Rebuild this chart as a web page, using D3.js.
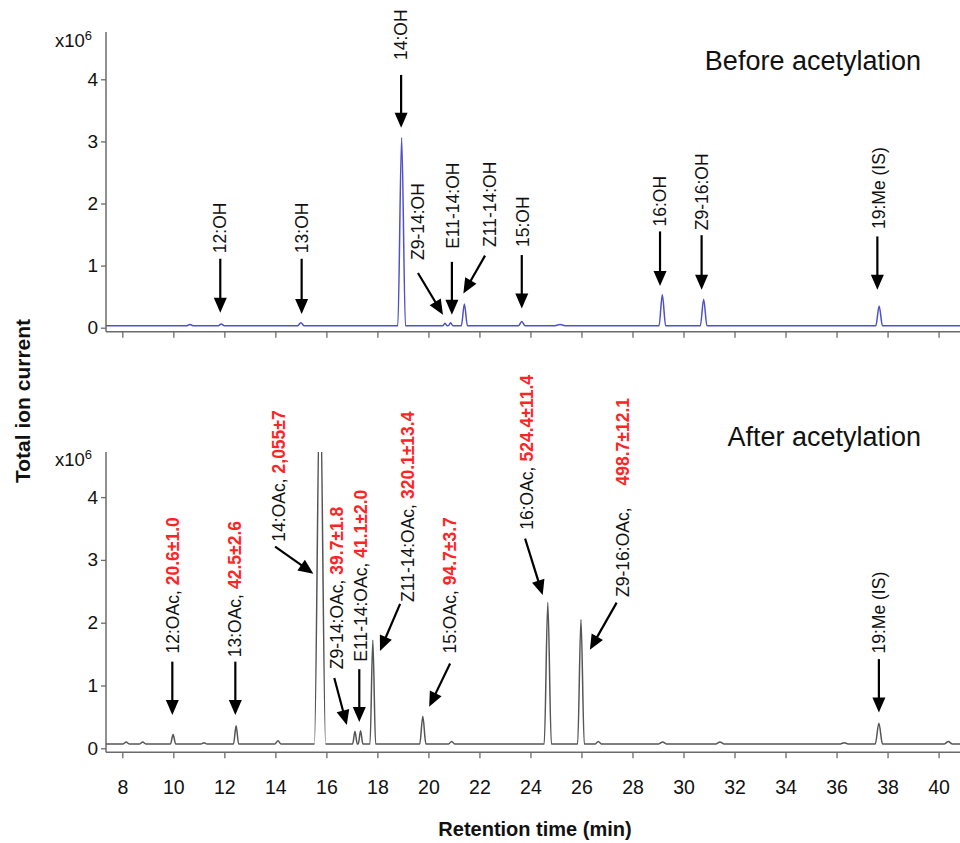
<!DOCTYPE html>
<html lang="en">
<head>
<meta charset="utf-8">
<title>TIC before and after acetylation</title>
<script src="https://cdn.jsdelivr.net/npm/d3@7"></script>
<style>
    body { margin: 0; background: #fff; }
    svg { font-family: "Liberation Sans", Arial, sans-serif; }
</style>
</head>
<body>
<script>
    // ---- data ----
    var xTicks = [8, 10, 12, 14, 16, 18, 20, 22, 24, 26, 28, 30, 32, 34, 36, 38, 40];
    var yTicks = [0, 1, 2, 3, 4];

    // before acetylation: apex time (min), apex height (x10^6), half width at base (min)
    var beforeTimes   = [10.65, 11.88, 15.0, 18.95, 20.65, 20.87, 21.41, 23.66, 25.16, 29.17, 30.79, 37.67];
    var beforeHeights = [0.05, 0.06, 0.08, 3.06, 0.07, 0.08, 0.38, 0.10, 0.05, 0.53, 0.46, 0.35];
    var beforeWidths  = [0.15, 0.12, 0.13, 0.15, 0.09, 0.09, 0.12, 0.13, 0.25, 0.13, 0.13, 0.13];
    var beforeBaseline = 0.03;

    // after acetylation
    var afterTimes   = [8.15, 8.8, 9.99, 11.2, 12.46, 14.1, 15.75, 17.12, 17.34, 17.82, 19.78, 20.91, 24.68, 25.98, 26.66, 29.18, 31.43, 36.3, 37.66, 40.38];
    var afterHeights = [0.10, 0.10, 0.22, 0.09, 0.36, 0.12, 6.0, 0.27, 0.28, 1.72, 0.51, 0.11, 2.32, 2.05, 0.11, 0.10, 0.10, 0.09, 0.40, 0.11];
    var afterWidths  = [0.12, 0.12, 0.10, 0.12, 0.10, 0.12, 0.22, 0.09, 0.09, 0.11, 0.12, 0.12, 0.14, 0.13, 0.12, 0.15, 0.15, 0.15, 0.14, 0.15];
    var afterBaseline = 0.07;

    // peak labels
    var beforeLabels = ["12:OH", "13:OH", "14:OH", "Z9-14:OH", "E11-14:OH", "Z11-14:OH", "15:OH", "16:OH", "Z9-16:OH", "19:Me (IS)"];
    var afterNames   = ["12:OAc,", "13:OAc,", "14:OAc,", "Z9-14:OAc,", "E11-14:OAc,", "Z11-14:OAc,", "15:OAc,", "16:OAc,", "Z9-16:OAc,", "19:Me (IS)"];
    var afterAmounts = ["20.6±1.0", "42.5±2.6", "2,055±7", "39.7±1.8", "41.1±2.0", "320.1±13.4", "94.7±3.7", "524.4±11.4", "498.7±12.1", ""];

    // ---- label / arrow placement, in data units: text foot [t, v], arrow [t1, v1, t2, v2] ----
    var beforeText  = [[11.84, 1.20], [15.03, 1.20], [18.93, 4.31], [19.60, 1.09], [20.96, 1.27], [22.41, 1.30],
                       [23.72, 1.30], [29.08, 1.63], [30.71, 1.57], [37.64, 1.59]];
    var beforeArrow = [[11.84, 1.11, 11.84, 0.24], [15.03, 1.11, 15.03, 0.22], [18.93, 4.07, 18.93, 3.22],
                       [19.59, 0.88, 20.57, 0.21], [20.92, 1.06, 20.92, 0.21], [22.22, 1.16, 21.37, 0.55],
                       [23.66, 1.17, 23.66, 0.31], [29.08, 1.55, 29.08, 0.67], [30.71, 1.49, 30.71, 0.61],
                       [37.60, 1.47, 37.60, 0.61]];
    var afterText  = [[10.00, 1.51], [12.42, 1.45], [14.12, 3.29], [16.40, 1.26], [17.36, 1.38], [19.21, 2.33],
                      [20.85, 1.51], [23.85, 3.48], [27.64, 2.41], [37.64, 1.51]];
    var afterArrow = [[9.96, 1.38, 9.96, 0.53], [12.43, 1.38, 12.43, 0.53], [13.99, 3.21, 15.49, 2.78],
                      [16.31, 1.12, 16.80, 0.37], [17.29, 1.26, 17.29, 0.42], [18.89, 2.30, 18.10, 1.55],
                      [20.85, 1.35, 20.03, 0.66], [23.79, 3.34, 24.48, 2.44], [27.38, 2.32, 26.33, 1.57],
                      [37.66, 1.42, 37.66, 0.57]];

    var W = 960, H = 843;
    var svg = d3.select("body").append("svg").attr("width", W).attr("height", H);

    var x = d3.scaleLinear().domain([7.36, 40.84]).range([106, 960]);

    var fontLabel = 17.5;

    function tracePoints(times, heights, widths, base) {
        var pts = [[x.domain()[0], base]];
        times.forEach(function (t, i) {
            pts.push([t - widths[i], base], [t, heights[i]], [t + widths[i], base]);
        });
        pts.push([x.domain()[1], base]);
        return pts;
    }

    function arrow(g, x1, y1, x2, y2) {
        var dx = x2 - x1, dy = y2 - y1, len = Math.hypot(dx, dy);
        var ux = dx / len, uy = dy / len;
        var hl = 15, hw = 6.5;
        var bx = x2 - ux * hl, by = y2 - uy * hl;
        g.append("line")
            .attr("x1", x1).attr("y1", y1)
            .attr("x2", bx + ux * 2).attr("y2", by + uy * 2)
            .attr("stroke", "#000").attr("stroke-width", 2.2);
        g.append("path")
            .attr("d", "M" + x2 + "," + y2 +
                "L" + (bx - uy * hw) + "," + (by + ux * hw) +
                "L" + (bx + uy * hw) + "," + (by - ux * hw) + "Z")
            .attr("fill", "#000");
    }

    function drawPanel(p) {
        var y = d3.scaleLinear().domain([0, p.top]).range([p.zeroY, p.zeroY - p.top * p.unit]);
        var g = svg.append("g");
        var axisY = p.zeroY + 4;

        // clip so the saturated peak stops at the frame top
        var clipId = "clip" + p.id;
        svg.append("clipPath").attr("id", clipId).append("rect")
            .attr("x", 106).attr("y", y(p.top)).attr("width", 960 - 106).attr("height", axisY - y(p.top));

        // x axis
        var xa = g.append("g")
            .attr("transform", "translate(0," + axisY + ")")
            .call(d3.axisBottom(x).tickValues(xTicks).tickSize(6).tickPadding(22)
                .tickFormat(p.xLabels ? d3.format("d") : ""));
        xa.select(".domain").remove();
        xa.append("line").attr("x1", 106).attr("x2", 960).attr("stroke", "#6b6b6b").attr("stroke-width", 1.5);
        xa.selectAll(".tick line").attr("stroke", "#6b6b6b").attr("stroke-width", 1.3);
        xa.selectAll(".tick text").attr("font-size", 19.5).attr("fill", "#111").attr("font-family", null);

        // y axis
        var ya = g.append("g")
            .attr("transform", "translate(106,0)")
            .call(d3.axisLeft(y).tickValues(yTicks).tickSize(5).tickPadding(3).tickFormat(d3.format("d")));
        ya.select(".domain").remove();
        ya.append("line").attr("y1", y(p.top)).attr("y2", axisY).attr("stroke", "#6b6b6b").attr("stroke-width", 1.5);
        ya.selectAll(".tick line").attr("stroke", "#6b6b6b").attr("stroke-width", 1.3);
        ya.selectAll(".tick text").attr("font-size", 19).attr("fill", "#111").attr("font-family", null);

        // x10^6
        var mult = g.append("text").attr("x", 55).attr("y", y(p.top) + 14.5)
            .attr("font-size", 18.5).attr("fill", "#111");
        mult.append("tspan").text("x10");
        mult.append("tspan").attr("font-size", 13).attr("dy", -7).text("6");

        // trace
        var line = d3.line()
            .x(function (d) { return x(d[0]); })
            .y(function (d) { return y(d[1]); })
            .curve(d3.curveMonotoneX);
        g.append("path")
            .datum(tracePoints(p.times, p.heights, p.widths, p.base))
            .attr("clip-path", "url(#" + clipId + ")")
            .attr("d", line)
            .attr("fill", "none")
            .attr("stroke", p.color)
            .attr("stroke-width", 1.5);

        // panel title
        g.append("text").attr("x", 921).attr("y", p.titleY)
            .attr("text-anchor", "end").attr("font-size", 27).attr("fill", "#111")
            .text(p.title);

        // labels and arrows
        p.names.forEach(function (name, i) {
            var tp = p.textPos[i];
            var t = g.append("text")
                .attr("transform", "translate(" + x(tp[0]) + "," + y(tp[1]) + ") rotate(-90)")
                .attr("dy", "0.35em")
                .attr("font-size", fontLabel)
                .attr("fill", "#111");
            t.append("tspan").text(name);
            if (p.amounts && p.amounts[i]) {
                t.append("tspan")
                    .attr("dx", name === "Z9-16:OAc," ? 22 : 5)
                    .attr("font-weight", "bold")
                    .attr("fill", "#ff2424")
                    .text(p.amounts[i]);
            }
            var a = p.arrows[i];
            arrow(g, x(a[0]), y(a[1]), x(a[2]), y(a[3]));
        });
    }

    drawPanel({
        id: "top", top: 4.76, zeroY: 327.7, unit: 62.1, xLabels: false,
        times: beforeTimes, heights: beforeHeights, widths: beforeWidths, base: beforeBaseline,
        color: "#5050c8", title: "Before acetylation", titleY: 70,
        names: beforeLabels, amounts: null, textPos: beforeText, arrows: beforeArrow
    });

    drawPanel({
        id: "bottom", top: 4.72, zeroY: 748.3, unit: 62.8, xLabels: true,
        times: afterTimes, heights: afterHeights, widths: afterWidths, base: afterBaseline,
        color: "#555555", title: "After acetylation", titleY: 446,
        names: afterNames, amounts: afterAmounts, textPos: afterText, arrows: afterArrow
    });

    // axis titles
    svg.append("text")
        .attr("transform", "translate(30,401) rotate(-90)")
        .attr("text-anchor", "middle").attr("font-size", 21).attr("font-weight", "bold").attr("fill", "#111")
        .text("Total ion current");

    svg.append("text")
        .attr("x", 535).attr("y", 836)
        .attr("text-anchor", "middle").attr("font-size", 20).attr("font-weight", "bold").attr("fill", "#111")
        .text("Retention time (min)");
</script>
</body>
</html>
